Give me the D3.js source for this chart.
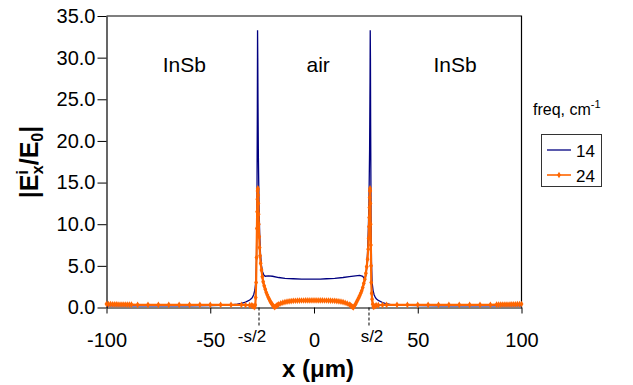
<!DOCTYPE html>
<html>
<head>
<meta charset="utf-8">
<script src="https://cdn.jsdelivr.net/npm/d3@7/dist/d3.min.js"></script>
<style>
  body { margin: 0; background: #fff; }
  svg { display: block; font-family: "Liberation Sans", Arial, sans-serif; }
</style>
</head>
<body>
<svg width="633" height="385"></svg>
<script>
// x positions (um) and |Ex/E0| values
var x14 = [
  -100, -90, -80, -70, -60, -50, -45, -40, -37, -35, -33, -31, -30, -29.5, -29, -28.5, -28,
  -27.7, -27.5, -27.3, -27.2, -27.1, -27, -26.8, -26.5, -26.2, -25.8, -25.3, -24.8, -24.2, -23.5,
  -22, -20, -17, -14, -10, -6, -3, 0, 3, 6, 10, 14, 17, 20, 22,
  23.5, 24.3, 24.8, 25.3, 25.8, 26.2, 26.5, 26.8, 27, 27.1, 27.2, 27.3, 27.5, 27.7,
  28, 28.5, 29, 29.5, 30, 31, 33, 35, 37, 40, 45, 50, 60, 70, 80, 90, 100
];
var v14 = [
  0.2, 0.2, 0.2, 0.2, 0.2, 0.22, 0.25, 0.32, 0.4, 0.5, 0.65, 0.9, 1.1, 1.3, 1.6, 2.1, 3.2,
  6, 12, 24, 33.3, 30, 25, 18, 12.5, 9, 6.5, 5, 4.3, 3.9, 3.75,
  3.8, 3.75, 3.6, 3.5, 3.45, 3.4, 3.4, 3.4, 3.4, 3.45, 3.5, 3.6, 3.7, 3.8, 3.85,
  3.75, 3.4, 3.6, 4.5, 6.5, 9.5, 13, 19, 27, 33.3, 30, 22, 11, 5.5,
  3, 2, 1.5, 1.25, 1.05, 0.85, 0.6, 0.45, 0.35, 0.3, 0.25, 0.22, 0.2, 0.2, 0.2, 0.2, 0.2
];

var x24 = [
  -100, -99, -98, -97, -96, -95, -94, -93, -92, -91, -90, -89, -88,
  -85, -80, -75, -70, -65, -60, -55, -50, -45, -40, -35,
  -33, -31, -30, -29.5, -29, -28.6, -28.3, -28.1, -27.9, -27.7, -27.5, -27.4, -27.3, -27.2, -27.1,
  -27, -26.9, -26.8, -26.7, -26.6, -26.4, -26.2, -26, -25.7, -25.3, -24.9, -24.5, -24, -23.5, -23,
  -22.5, -22, -21.5, -21, -20.5, -20, -19.5, -19, -18.5, -18, -17.5, -17, -16, -15, -14, -13, -12, -11, -10, -9,
  -8, -7, -6, -5, -4, -3, -2, -1, 0, 1, 2, 3, 4, 5, 6, 7, 8,
  9, 10, 11, 12, 13, 14, 15, 16, 17, 17.5, 18, 18.5, 19, 19.5, 20, 20.5, 21, 21.5, 22, 22.5,
  23, 23.5, 24, 24.5, 25, 25.4, 25.8, 26.1, 26.3, 26.5, 26.6, 26.7, 26.8, 26.9, 27,
  27.1, 27.2, 27.3, 27.4, 27.5, 27.6, 27.8, 28, 28.3, 28.6, 29, 29.5, 30, 31, 33,
  35, 40, 45, 50, 55, 60, 65, 70, 75, 80, 85,
  88, 89, 90, 91, 92, 93, 94, 95, 96, 97, 98, 99, 100
];
var v24 = [
  0.42, 0.4, 0.4, 0.38, 0.38, 0.38, 0.36, 0.36, 0.36, 0.36, 0.35, 0.35, 0.35,
  0.32, 0.32, 0.32, 0.32, 0.32, 0.32, 0.32, 0.32, 0.32, 0.32, 0.32,
  0.3, 0.28, 0.25, 0.2, 0.12, 0.05, 0.3, 1.2, 3, 6, 9.5, 11.5, 13, 14, 14.3,
  14.2, 13.5, 12.5, 11.2, 10, 8.5, 7.2, 6.2, 5.3, 4.5, 3.7, 3.1, 2.6, 2.2, 1.8,
  1.5, 1.2, 0.95, 0.7, 0.5, 0.32, 0.15, 0.05, 0.12, 0.22, 0.3, 0.38, 0.5, 0.58, 0.65, 0.7, 0.74, 0.77, 0.8, 0.81,
  0.82, 0.83, 0.84, 0.84, 0.85, 0.85, 0.85, 0.85, 0.85, 0.85, 0.85, 0.85, 0.85, 0.84, 0.84, 0.83, 0.82,
  0.81, 0.8, 0.77, 0.74, 0.7, 0.65, 0.57, 0.48, 0.36, 0.28, 0.18, 0.08, 0.02, 0.2, 0.4, 0.65, 0.9, 1.15, 1.4, 1.7,
  2.0, 2.4, 2.9, 3.4, 4.1, 4.9, 5.8, 7, 8.3, 9.7, 10.8, 12, 13.2, 14, 14.3,
  14, 12.5, 10, 7.5, 5, 3, 1.7, 1.0, 0.4, 0.08, 0.12, 0.2, 0.25, 0.28, 0.3,
  0.32, 0.32, 0.32, 0.32, 0.32, 0.32, 0.32, 0.32, 0.32, 0.32, 0.32,
  0.35, 0.35, 0.35, 0.36, 0.36, 0.36, 0.36, 0.38, 0.38, 0.38, 0.4, 0.4, 0.42
];

var xTicks = [-100, -50, 0, 50, 100];
var yTicks = [0, 5, 10, 15, 20, 25, 30, 35];
var halfGap = 26.5;            // s/2
var regions = [["InSb", -62.5], ["air", 2], ["InSb", 68]];
var seriesNames = ["14", "24"];

var svg = d3.select("svg"),
    margin = {top: 16, right: 111.5, bottom: 77.5, left: 106.5},
    width = +svg.attr("width") - margin.left - margin.right,
    height = +svg.attr("height") - margin.top - margin.bottom,
    g = svg.append("g").attr("transform", "translate(" + margin.left + "," + margin.top + ")");

var blue = "#000080", orange = "#ff6600";

var x = d3.scaleLinear().domain([-100, 100]).range([0, width]);
var y = d3.scaleLinear().domain([0, 35]).range([height, 0]);

// frame
g.append("path")
    .attr("d", "M0,0H" + width + "V" + height)
    .attr("fill", "none")
    .attr("stroke", "#000")
    .attr("stroke-width", 1.2);

var yAxis = g.append("g")
    .call(d3.axisLeft(y).tickValues(yTicks).tickFormat(function (d) { return d.toFixed(1); })
        .tickSize(9).tickSizeOuter(0).tickPadding(2));
var xAxis = g.append("g")
    .attr("transform", "translate(0," + height + ")")
    .call(d3.axisBottom(x).tickValues(xTicks).tickFormat(function (d) { return String(d); })
        .tickSize(6).tickSizeOuter(0).tickPadding(19));

[xAxis, yAxis].forEach(function (a) {
    a.select(".domain").attr("stroke", "#000").attr("stroke-width", 1.2);
    a.selectAll(".tick line").attr("stroke", "#000");
    a.selectAll("text").attr("font-family", "Liberation Sans, Arial, sans-serif").attr("font-size", 20).attr("fill", "#000");
});

// s/2 markers
[-halfGap, halfGap].forEach(function (d) {
    g.append("line")
        .attr("x1", x(d)).attr("x2", x(d))
        .attr("y1", height).attr("y2", height + 18)
        .attr("stroke", "#000")
        .attr("stroke-dasharray", "3,2");
});
g.append("text").attr("x", x(-halfGap) - 7).attr("y", height + 34.5)
    .attr("text-anchor", "middle").attr("font-size", 17).text("-s/2");
g.append("text").attr("x", x(halfGap) + 3).attr("y", height + 34.5)
    .attr("text-anchor", "middle").attr("font-size", 17).text("s/2");

// region labels
g.selectAll(".region")
    .data(regions)
    .enter().append("text")
    .attr("class", "region")
    .attr("x", function (d) { return x(d[1]); })
    .attr("y", 56)
    .attr("text-anchor", "middle")
    .attr("font-size", 21)
    .text(function (d) { return d[0]; });

var line = d3.line()
    .x(function (d) { return x(d[0]); })
    .y(function (d) { return y(d[1]); });

var d14 = d3.zip(x14, v14), d24 = d3.zip(x24, v24);

g.append("path")
    .datum(d14)
    .attr("d", line)
    .attr("fill", "none")
    .attr("stroke", blue)
    .attr("stroke-width", 1.3);

g.append("path")
    .datum(d24)
    .attr("d", line)
    .attr("fill", "none")
    .attr("stroke", orange)
    .attr("stroke-width", 2.2);

var marker = d3.symbol().type(d3.symbolDiamond).size(13);
g.selectAll(".pt")
    .data(d24)
    .enter().append("path")
    .attr("class", "pt")
    .attr("transform", function (d) { return "translate(" + x(d[0]) + "," + y(d[1]) + ")"; })
    .attr("d", marker)
    .attr("fill", orange);

// axis titles
svg.append("text")
    .attr("x", 318).attr("y", 377)
    .attr("text-anchor", "middle")
    .attr("font-size", 24).attr("font-weight", "bold")
    .text("x (\u03bcm)");

var yt = svg.append("text")
    .attr("transform", "translate(38,162) rotate(-90)")
    .attr("text-anchor", "middle")
    .attr("font-size", 25).attr("font-weight", "bold");
yt.append("tspan").text("|E");
yt.append("tspan").attr("font-size", 16).attr("dy", -10).text("i");
yt.append("tspan").attr("font-size", 16).attr("dx", -4).attr("dy", 15).text("x");
yt.append("tspan").attr("dy", -5).text("/E");
yt.append("tspan").attr("font-size", 16).attr("dy", 5).text("0");
yt.append("tspan").attr("dy", -5).text("|");

// legend
var lg = svg.append("g");
var ft = lg.append("text").attr("x", 533).attr("y", 115).attr("font-size", 16);
ft.append("tspan").text("freq, cm");
ft.append("tspan").attr("font-size", 11).attr("dy", -7).text("-1");

lg.append("rect")
    .attr("x", 541.5).attr("y", 134.5).attr("width", 60).attr("height", 52)
    .attr("fill", "#fff").attr("stroke", "#333");

seriesNames.forEach(function (name, i) {
    var ly = 150 + i * 25, c = i === 0 ? blue : orange;
    lg.append("line").attr("x1", 547).attr("x2", 571).attr("y1", ly).attr("y2", ly)
        .attr("stroke", c).attr("stroke-width", i === 0 ? 1.3 : 1.6);
    if (i === 1) {
        lg.append("path").attr("transform", "translate(559," + ly + ")").attr("d", marker).attr("fill", c);
    }
    lg.append("text").attr("x", 576).attr("y", ly + 6.5).attr("font-size", 17).text(name);
});
</script>
</body>
</html>
